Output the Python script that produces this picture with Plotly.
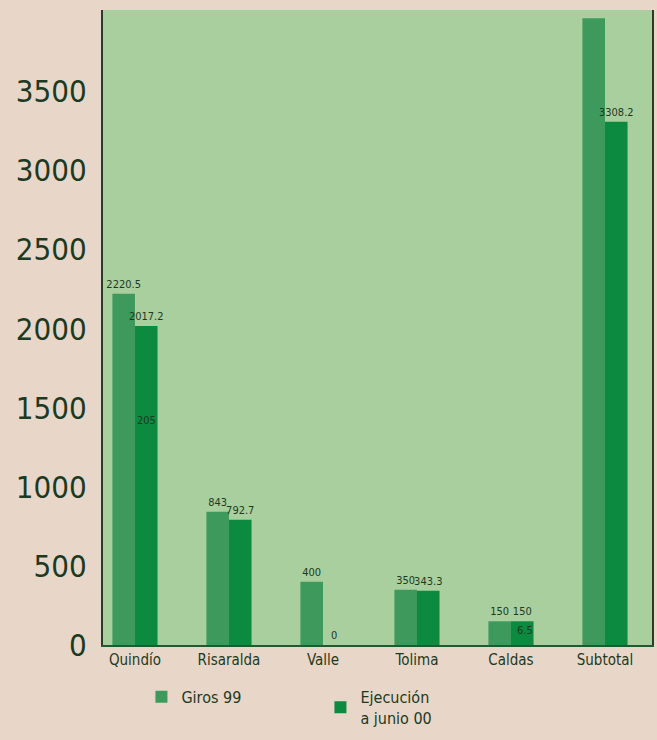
import plotly.graph_objects as go

categories = ["Quindío", "Risaralda", "Valle", "Tolima", "Caldas", "Subtotal"]
giros_99 = [2220.5, 843, 400, 350, 150, 3963.5]
ejecucion = [2017.2, 792.7, 0, 343.3, 150, 3308.2]
giros_text = ["2220.5", "843", "400", "350", "150", ""]
ejec_text = ["2017.2", "792.7", "0", "343.3", "150", "3308.2"]
y_ticks = [0, 500, 1000, 1500, 2000, 2500, 3000, 3500]

FONT = "DejaVu Sans Condensed, Liberation Sans Narrow, sans-serif"
INK = "#1c3a22"

fig = go.Figure()

fig.add_trace(go.Bar(
    x=categories, y=giros_99, name="Giros 99",
    marker_color="#3d9a5c", marker_line_width=0,
    text=giros_text, textposition="outside", cliponaxis=False,
    constraintext="none",
    textfont=dict(size=11, color=INK, family=FONT),
))
fig.add_trace(go.Bar(
    x=categories, y=ejecucion, name="Ejecución<br>a junio 00",
    marker_color="#0b8a40", marker_line_width=0,
    text=ejec_text, textposition="outside", cliponaxis=False,
    constraintext="none",
    textfont=dict(size=11, color=INK, family=FONT),
))

# stray labels printed inside the original bars
fig.add_annotation(x=0.12, y=1420, xref="x", yref="y", text="205", showarrow=False,
                   font=dict(size=11, color=INK, family=FONT))
fig.add_annotation(x=4.15, y=90, xref="x", yref="y", text="6.5", showarrow=False,
                   font=dict(size=11, color=INK, family=FONT))

fig.update_layout(
    width=657, height=740,
    margin=dict(l=103, r=3, t=10, b=95),
    paper_bgcolor="#e8d6c8",
    plot_bgcolor="#a9cf9f",
    barmode="group", bargap=0.52, bargroupgap=0,
    font=dict(family=FONT, color=INK),
    showlegend=True,
    legend=dict(orientation="h", x=0.07, y=-0.055, xanchor="left", yanchor="top",
                font=dict(size=16, color=INK, family=FONT),
                bgcolor="rgba(0,0,0,0)", entrywidth=134, entrywidthmode="pixels"),
)
fig.update_xaxes(
    range=[-0.34, 5.5], showgrid=False, ticks="",
    showline=True, linecolor="#1f5a30", linewidth=2,
    tickfont=dict(size=15, color=INK, family=FONT),
)
fig.update_yaxes(
    range=[0, 4015], tickvals=y_ticks, showgrid=False, zeroline=False,
    showline=True, linecolor="#2b3a2b", linewidth=2, mirror=True,
    ticks="", ticklabelstandoff=8,
    tickfont=dict(size=31, color=INK, family=FONT),
)

fig.write_html("out.html", config={"displayModeBar": False},
               post_script="document.body.style.margin='0';")
